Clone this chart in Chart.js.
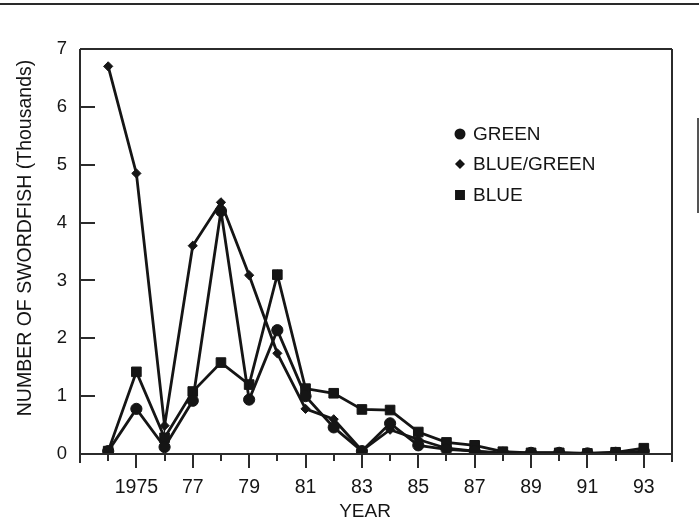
<!DOCTYPE html>
<html>
<head>
<meta charset="utf-8">
<script src="https://cdn.jsdelivr.net/npm/chart.js@4/dist/chart.umd.min.js"></script>
<style>
  html, body { margin: 0; padding: 0; background: #fff; }
  #wrap { position: relative; width: 699px; height: 522px; overflow: hidden; }
  #topRule { position: absolute; left: 0; top: 3px; width: 699px; height: 2px; background: #2a2a2a; }
  #sideRule { position: absolute; left: 697px; top: 118px; width: 2px; height: 95px; background: #555; }
  canvas { position: absolute; left: 0; top: 0; }
</style>
</head>
<body>
<div id="wrap">
  <div id="topRule"></div>
  <div id="sideRule"></div>
  <canvas id="c" width="699" height="522"></canvas>
</div>
<script>
  const years = [1974, 1975, 1976, 1977, 1978, 1979, 1980, 1981, 1982, 1983,
                 1984, 1985, 1986, 1987, 1988, 1989, 1990, 1991, 1992, 1993];
  const green     = [0.05, 0.78, 0.12, 0.92, 4.20, 0.94, 2.14, 1.00, 0.46, 0.05,
                     0.53, 0.15, 0.08, 0.05, 0.02, 0.02, 0.02, 0.01, 0.02, 0.05];
  const blueGreen = [6.70, 4.85, 0.49, 3.60, 4.35, 3.09, 1.74, 0.78, 0.60, 0.06,
                     0.42, 0.25, 0.10, 0.05, 0.00, 0.02, 0.02, 0.00, 0.02, 0.03];
  const blue      = [0.05, 1.42, 0.28, 1.08, 1.58, 1.20, 3.10, 1.13, 1.05, 0.77,
                     0.76, 0.38, 0.20, 0.15, 0.04, 0.02, 0.02, 0.01, 0.03, 0.10];
  const xLabelYears = [1975, 1977, 1979, 1981, 1983, 1985, 1987, 1989, 1991, 1993];
  const yTicks = [0, 1, 2, 3, 4, 5, 6, 7];

  const ink = '#151515';
  const fontFam = "'Liberation Sans', Arial, Helvetica, sans-serif";
  const toPts = (arr) => years.map((yr, i) => ({ x: yr, y: arr[i] }));

  const series = [
    { label: 'GREEN', data: green, style: 'circle', r: 5.6, lr: 4.5 },
    { label: 'BLUE/GREEN', data: blueGreen, style: 'rectRot', r: 4.6, lr: 3.6 },
    { label: 'BLUE', data: blue, style: 'rect', r: 6.8, lr: 5.6 },
  ];

  // frame, inward y ticks, outward x ticks, legend and axis titles
  const framePlugin = {
    id: 'frame',
    afterDraw(chart) {
      const { ctx, chartArea: a, scales: { x, y } } = chart;
      ctx.save();
      ctx.strokeStyle = '#2b2b2b';
      ctx.lineWidth = 2;
      ctx.beginPath();
      ctx.moveTo(a.left, a.top); ctx.lineTo(a.right, a.top);
      ctx.moveTo(a.left, a.top); ctx.lineTo(a.left, a.bottom + 9);
      ctx.moveTo(a.right, a.top); ctx.lineTo(a.right, a.bottom + 8);
      ctx.moveTo(a.left, a.bottom); ctx.lineTo(a.right, a.bottom);
      for (const v of yTicks) {
        const py = Math.round(y.getPixelForValue(v));
        ctx.moveTo(a.left, py); ctx.lineTo(a.left + 15, py);
      }
      for (const yr of years) {
        const px = Math.round(x.getPixelForValue(yr));
        const len = xLabelYears.includes(yr) ? 14 : 7;
        ctx.moveTo(px, a.bottom); ctx.lineTo(px, a.bottom + len);
      }
      ctx.stroke();

      // legend
      ctx.fillStyle = ink;
      ctx.strokeStyle = ink;
      ctx.font = '19px ' + fontFam;
      ctx.textBaseline = 'middle';
      const legendY = [134, 164, 195];
      series.forEach((s, i) => {
        Chart.helpers.drawPoint(ctx, { pointStyle: s.style, radius: s.lr, borderWidth: 1, rotation: 0 }, 460, legendY[i]);
        ctx.fill();
        ctx.fillText(s.label, 473, legendY[i] + 1);
      });

      // axis titles
      ctx.font = '19px ' + fontFam;
      ctx.textAlign = 'center';
      ctx.fillText('YEAR', 365, 512);
      ctx.translate(26, 238);
      ctx.rotate(-Math.PI / 2);
      ctx.font = '19.5px ' + fontFam;
      ctx.fillText('NUMBER OF SWORDFISH (Thousands)', 0, 0);
      ctx.restore();
    }
  };

  new Chart(document.getElementById('c'), {
    type: 'line',
    data: {
      datasets: series.map((s) => ({
        label: s.label,
        data: toPts(s.data),
        borderColor: ink,
        backgroundColor: ink,
        borderWidth: 2.8,
        pointStyle: s.style,
        pointRadius: s.r,
        pointBackgroundColor: ink,
        pointBorderColor: ink,
        pointBorderWidth: 1,
        tension: 0,
      })),
    },
    options: {
      responsive: false,
      animation: false,
      devicePixelRatio: 1,
      layout: { padding: { top: 49, right: 27, left: 0, bottom: 0 } },
      plugins: { legend: { display: false }, tooltip: { enabled: false } },
      scales: {
        x: {
          type: 'linear',
          min: 1973,
          max: 1994,
          afterBuildTicks: (sc) => { sc.ticks = xLabelYears.map((v) => ({ value: v })); },
          afterFit: (sc) => { sc.height = 68; },
          grid: { display: false, drawTicks: false },
          border: { display: false },
          ticks: {
            autoSkip: false,
            maxRotation: 0,
            padding: 22,
            color: ink,
            font: { family: fontFam, size: 19.5 },
            callback: (v) => (v === 1975 ? '1975' : String(v).slice(2)),
          },
        },
        y: {
          min: 0,
          max: 7,
          afterBuildTicks: (sc) => { sc.ticks = yTicks.map((v) => ({ value: v })); },
          afterFit: (sc) => { sc.width = 80; },
          grid: { display: false, drawTicks: false },
          border: { display: false },
          ticks: {
            padding: 13,
            color: ink,
            font: { family: fontFam, size: 18.5 },
          },
        },
      },
    },
    plugins: [framePlugin],
  });
</script>
</body>
</html>
